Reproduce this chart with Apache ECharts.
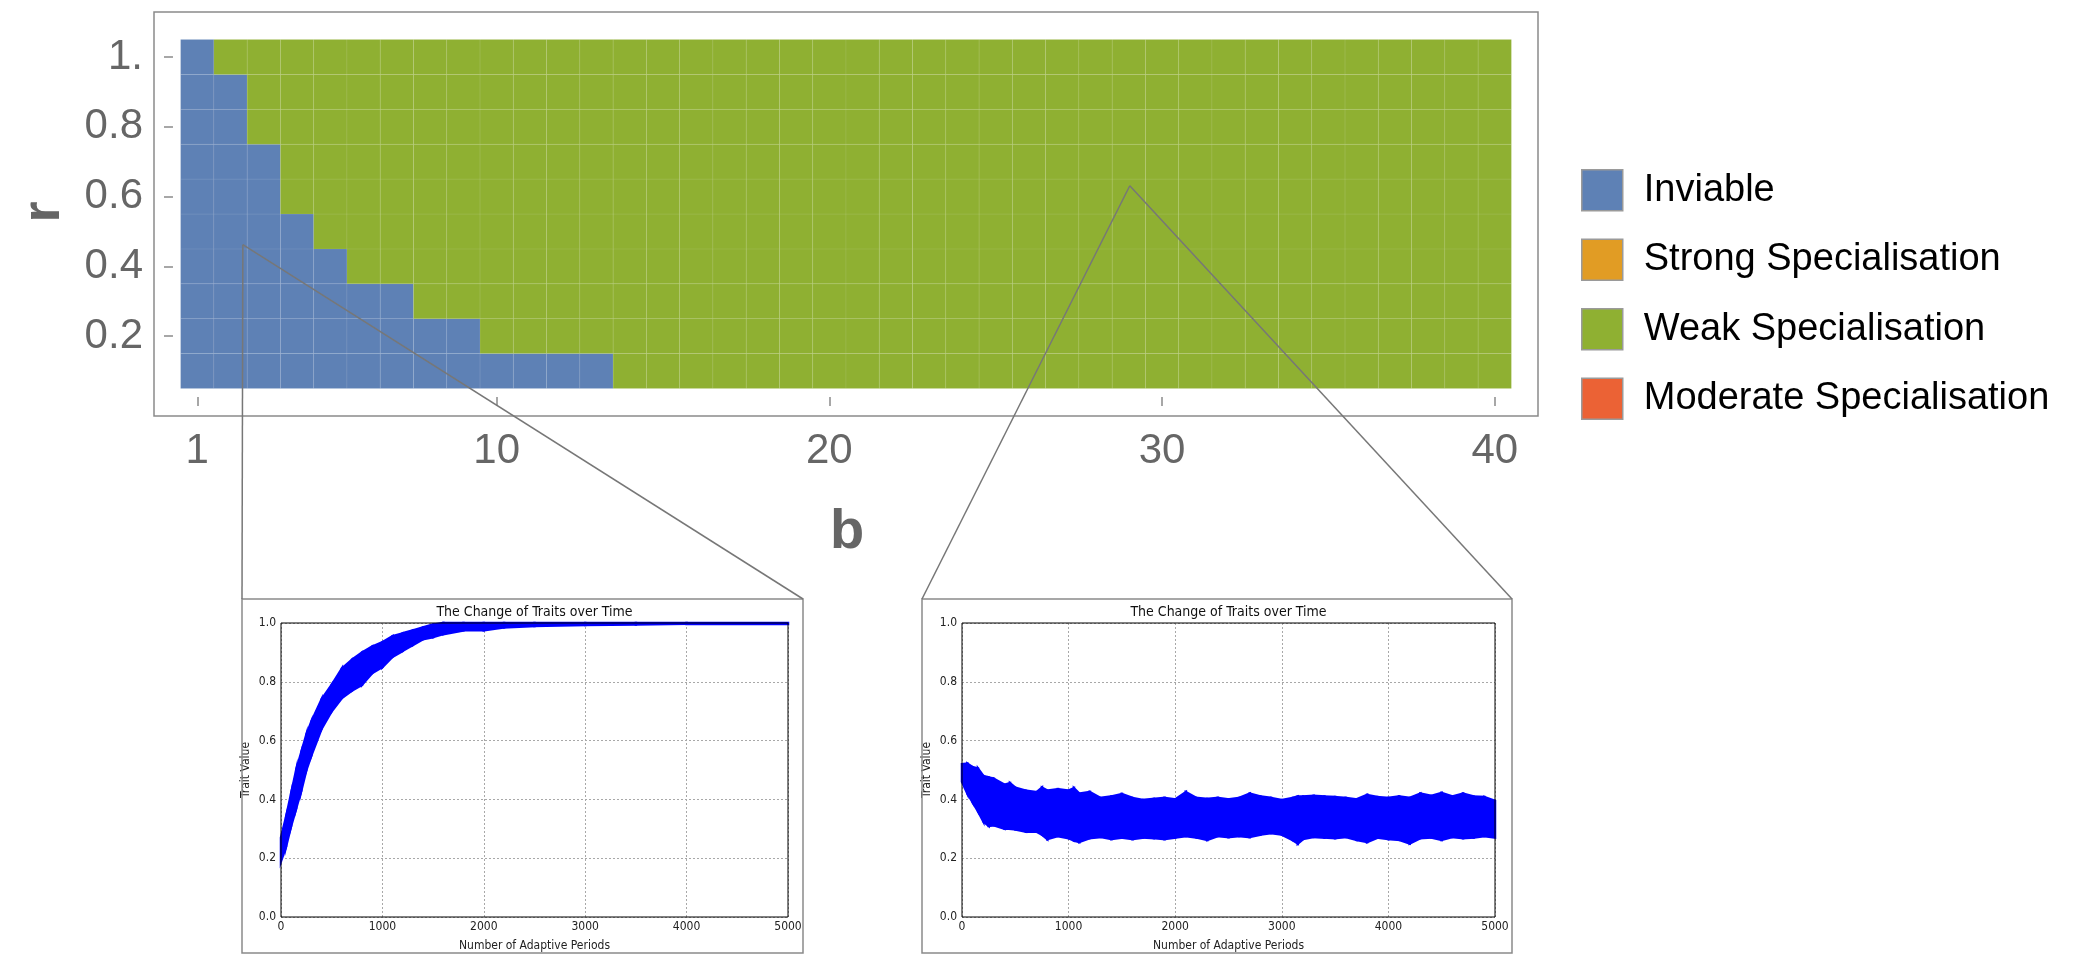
<!DOCTYPE html>
<html>
<head>
<meta charset="utf-8">
<script src="https://cdn.jsdelivr.net/npm/echarts@6/dist/echarts.min.js"></script>
<style>
    html, body { margin: 0; padding: 0; background: #fff; }
    #chart { width: 2080px; height: 957px; }
</style>
</head>
<body>
<div id="chart"></div>
<script>
// ---- data ----
var bValues = [1, 2, 3, 4, 5, 6, 7, 8, 9, 10, 11, 12, 13, 14, 15, 16, 17, 18, 19, 20,
    21, 22, 23, 24, 25, 26, 27, 28, 29, 30, 31, 32, 33, 34, 35, 36, 37, 38, 39, 40];
var rValues = [0.1, 0.2, 0.3, 0.4, 0.5, 0.6, 0.7, 0.8, 0.9, 1.0];
// how many b columns (from b = 1) are Inviable in each r row, the rest is Weak Specialisation
var inviableCols = [13, 9, 7, 5, 4, 3, 3, 2, 2, 1];
var regimes = ['Inviable', 'Strong Specialisation', 'Weak Specialisation', 'Moderate Specialisation'];
var regimeColors = ['#5E81B5', '#E19C24', '#8FB032', '#EB6235'];
var bTicks = [1, 10, 20, 30, 40];
var rTicks = [0.2, 0.4, 0.6, 0.8, 1.0];
// (b, r) points the two insets zoom into
var zoomPoints = [[2.37, 0.462], [29.03, 0.631]];

// inset 1: trait band (upper / lower edge) over adaptive periods
var periods1 = [0, 50, 100, 150, 200, 250, 300, 400, 500, 600, 700, 800, 900, 1000, 1100, 1200,
    1300, 1400, 1500, 1600, 1800, 2000, 2200, 2500, 3000, 3500, 4000, 5000];
var upper1 = [0.27, 0.34, 0.42, 0.50, 0.56, 0.62, 0.665, 0.74, 0.79, 0.845, 0.875, 0.90, 0.92, 0.935, 0.955, 0.965,
    0.975, 0.985, 0.995, 1.0, 1.0, 1.0, 1.0, 1.0, 1.0, 1.0, 1.0, 1.0];
var lower1 = [0.19, 0.24, 0.31, 0.37, 0.43, 0.50, 0.55, 0.64, 0.70, 0.745, 0.77, 0.79, 0.83, 0.85, 0.885, 0.905,
    0.925, 0.945, 0.952, 0.962, 0.975, 0.975, 0.985, 0.99, 0.993, 0.995, 0.997, 0.997];

// inset 2
var periods2 = [0, 50, 100, 150, 200, 250, 300, 400, 450, 500, 600, 700, 750, 800, 900, 1000, 1050, 1100, 1200,
    1300, 1400, 1500, 1600, 1700, 1800, 1900, 2000, 2100, 2200, 2300, 2400, 2500, 2600, 2700, 2800, 2900,
    3000, 3100, 3150, 3200, 3300, 3400, 3500, 3600, 3700, 3800, 3900, 4000, 4100, 4200, 4300, 4400, 4500,
    4600, 4700, 4800, 4900, 5000];
var upper2 = [0.52, 0.522, 0.51, 0.505, 0.48, 0.475, 0.47, 0.45, 0.455, 0.44, 0.43, 0.425, 0.44, 0.43, 0.435, 0.43, 0.438, 0.42, 0.425,
    0.405, 0.41, 0.418, 0.405, 0.398, 0.402, 0.405, 0.40, 0.425, 0.405, 0.402, 0.405, 0.40, 0.405, 0.42, 0.41, 0.405,
    0.398, 0.405, 0.41, 0.41, 0.412, 0.41, 0.408, 0.405, 0.40, 0.415, 0.408, 0.405, 0.41, 0.405, 0.42, 0.412, 0.422,
    0.41, 0.42, 0.41, 0.408, 0.395];
var lower2 = [0.46, 0.42, 0.39, 0.36, 0.325, 0.31, 0.312, 0.30, 0.30, 0.298, 0.29, 0.29, 0.28, 0.265, 0.275, 0.268, 0.26, 0.255, 0.268,
    0.272, 0.265, 0.27, 0.265, 0.27, 0.268, 0.265, 0.27, 0.275, 0.27, 0.262, 0.275, 0.272, 0.275, 0.272, 0.28, 0.285,
    0.28, 0.262, 0.25, 0.265, 0.272, 0.27, 0.268, 0.272, 0.262, 0.255, 0.27, 0.265, 0.262, 0.25, 0.268, 0.27, 0.262,
    0.272, 0.268, 0.27, 0.275, 0.27];

// ---- layout (pixels) ----
var insetBoxes = [[242, 599, 803, 953], [922, 599, 1512, 953]];
var mainFont = "'Liberation Sans', Arial, sans-serif";
var smallFont = "'Liberation Sans Narrow', 'DejaVu Sans Condensed', 'Liberation Sans', sans-serif";

function cellsOf(regimeIndex) {
    var res = [];
    rValues.forEach(function (r, i) {
        bValues.forEach(function (b) {
            var reg = b <= inviableCols[i] ? 0 : 2;
            if (reg === regimeIndex) res.push([b, r]);
        });
    });
    return res;
}

function bandOf(periods, upper, lower) {
    var res = [];
    for (var i = 0; i < periods.length - 1; i++) {
        res.push([periods[i], upper[i], lower[i], periods[i + 1], upper[i + 1], lower[i + 1]]);
    }
    return res;
}

function renderCell(params, api) {
    var b = api.value(0), r = api.value(1);
    var p1 = api.coord([b - 0.5, r + 0.05]);
    var p2 = api.coord([b + 0.5, r - 0.05]);
    return {
        type: 'rect',
        shape: { x: p1[0], y: p1[1], width: p2[0] - p1[0], height: p2[1] - p1[1] },
        style: { fill: api.visual('color'), stroke: 'rgba(255,255,255,0.07)', lineWidth: 1 }
    };
}

function renderBand(params, api) {
    var pts = [
        api.coord([api.value(0), api.value(2)]),
        api.coord([api.value(0), api.value(1)]),
        api.coord([api.value(3), api.value(4)]),
        api.coord([api.value(3), api.value(5)])
    ];
    return {
        type: 'polygon',
        shape: { points: pts },
        style: { fill: '#0000ff', stroke: '#0000ff', lineWidth: 2.5 }
    };
}

function insetXAxis(gridIndex) {
    return {
        type: 'value', gridIndex: gridIndex, min: 0, max: 5000, interval: 1000,
        name: 'Number of Adaptive Periods', nameLocation: 'middle', nameGap: 23,
        nameTextStyle: { fontFamily: smallFont, fontSize: 12, color: '#222' },
        axisLine: { show: false }, axisTick: { show: false },
        axisLabel: {
            fontFamily: smallFont, fontSize: 12, color: '#222', margin: 4,
            formatter: function (v) { return String(v); }
        },
        splitLine: { show: true, lineStyle: { color: '#a8a8a8', type: [2, 2], width: 1 } }
    };
}

function insetYAxis(gridIndex) {
    return {
        type: 'value', gridIndex: gridIndex, min: 0, max: 1, interval: 0.2,
        name: 'Trait Value', nameLocation: 'middle', nameGap: 29,
        nameTextStyle: { fontFamily: smallFont, fontSize: 12, color: '#222' },
        axisLine: { show: false }, axisTick: { show: false },
        axisLabel: {
            fontFamily: smallFont, fontSize: 12, color: '#222', margin: 5,
            formatter: function (v) { return v.toFixed(1); }
        },
        splitLine: { show: true, lineStyle: { color: '#a8a8a8', type: [2, 2], width: 1 } }
    };
}

var series = regimes.map(function (name, k) {
    return {
        name: name,
        type: 'custom',
        xAxisIndex: 0, yAxisIndex: 0,
        renderItem: renderCell,
        itemStyle: { color: regimeColors[k] },
        encode: { x: 0, y: 1 },
        data: cellsOf(k),
        z: 2
    };
});
series.push({
    type: 'custom', xAxisIndex: 1, yAxisIndex: 1,
    renderItem: renderBand, encode: { x: [0, 3], y: [1, 2, 4, 5] },
    data: bandOf(periods1, upper1, lower1), z: 3
});
series.push({
    type: 'custom', xAxisIndex: 2, yAxisIndex: 2,
    renderItem: renderBand, encode: { x: [0, 3], y: [1, 2, 4, 5] },
    data: bandOf(periods2, upper2, lower2), z: 3
});

var option = {
    animation: false,
    backgroundColor: '#fff',
    grid: [
        { left: 154, top: 12, width: 1384, height: 404, show: true, borderColor: '#8a8a8a', borderWidth: 1.5 },
        { left: 281, top: 623, width: 507, height: 294, show: true, borderColor: '#000', borderWidth: 1, z: 4 },
        { left: 962, top: 623, width: 533, height: 294, show: true, borderColor: '#000', borderWidth: 1, z: 4 }
    ],
    legend: {
        orient: 'vertical',
        left: 1576, top: 164,
        itemWidth: 41, itemHeight: 41, itemGap: 27,
        icon: 'rect',
        selectedMode: false,
        data: regimes,
        itemStyle: { borderColor: '#9a9a9a', borderWidth: 1.5 },
        textStyle: { fontFamily: mainFont, fontSize: 38, color: '#000', padding: [0, 0, 0, 16], lineHeight: 41 }
    },
    xAxis: [
        {
            type: 'value', gridIndex: 0, min: -0.3, max: 41.3,
            axisLine: { show: false },
            axisTick: { show: true, inside: true, length: 9, customValues: bTicks,
                lineStyle: { color: '#8a8a8a', width: 1.5 } },
            axisLabel: { customValues: bTicks, fontFamily: mainFont, fontSize: 42, color: '#666', margin: 14 },
            splitLine: { show: false }
        },
        insetXAxis(1),
        insetXAxis(2)
    ],
    yAxis: [
        {
            type: 'value', gridIndex: 0, min: -0.029, max: 1.129,
            axisLine: { show: false },
            axisTick: { show: true, inside: true, length: 9, customValues: rTicks,
                lineStyle: { color: '#8a8a8a', width: 1.5 } },
            axisLabel: {
                customValues: rTicks, fontFamily: mainFont, fontSize: 42, color: '#666', margin: 11,
                formatter: function (v) { return v === 1 ? '1.' : v.toFixed(1); }
            },
            splitLine: { show: false }
        },
        insetYAxis(1),
        insetYAxis(2)
    ],
    series: series
};

var myChart = echarts.init(document.getElementById('chart'), null, { renderer: 'canvas' });
myChart.setOption(option);

// frames, titles, axis names and the zoom-in lines
var graphics = [];
insetBoxes.forEach(function (box, i) {
    graphics.push({
        type: 'rect', z: 1,
        shape: { x: box[0], y: box[1], width: box[2] - box[0], height: box[3] - box[1] },
        style: { fill: 'none', stroke: '#8a8a8a', lineWidth: 1.5 }
    });
    var plotCenter = myChart.convertToPixel({ gridIndex: i + 1 }, [2500, 1]);
    graphics.push({
        type: 'text', z: 5, x: plotCenter[0], y: plotCenter[1] - 11,
        style: { text: 'The Change of Traits over Time', fontFamily: smallFont, fontSize: 14,
            fill: '#111', align: 'center', verticalAlign: 'middle' }
    });
});
graphics.push({
    type: 'text', z: 5, x: 44, y: 212, rotation: Math.PI / 2,
    style: { text: 'r', fontFamily: mainFont, fontSize: 54, fontWeight: 'bold', fill: '#666',
        align: 'center', verticalAlign: 'middle' }
});
graphics.push({
    type: 'text', z: 5, x: 847, y: 533,
    style: { text: 'b', fontFamily: mainFont, fontSize: 56, fontWeight: 'bold', fill: '#666',
        align: 'center', verticalAlign: 'middle' }
});
zoomPoints.forEach(function (pt, i) {
    var p = myChart.convertToPixel({ gridIndex: 0 }, pt);
    var box = insetBoxes[i];
    [[box[0], box[1]], [box[2], box[1]]].forEach(function (corner) {
        graphics.push({
            type: 'line', z: 50,
            shape: { x1: p[0], y1: p[1], x2: corner[0], y2: corner[1] },
            style: { stroke: '#777', lineWidth: 1.5 }
        });
    });
});
myChart.setOption({ graphic: graphics });

window.addEventListener('resize', function () {
    myChart.resize();
});
</script>
</body>
</html>
